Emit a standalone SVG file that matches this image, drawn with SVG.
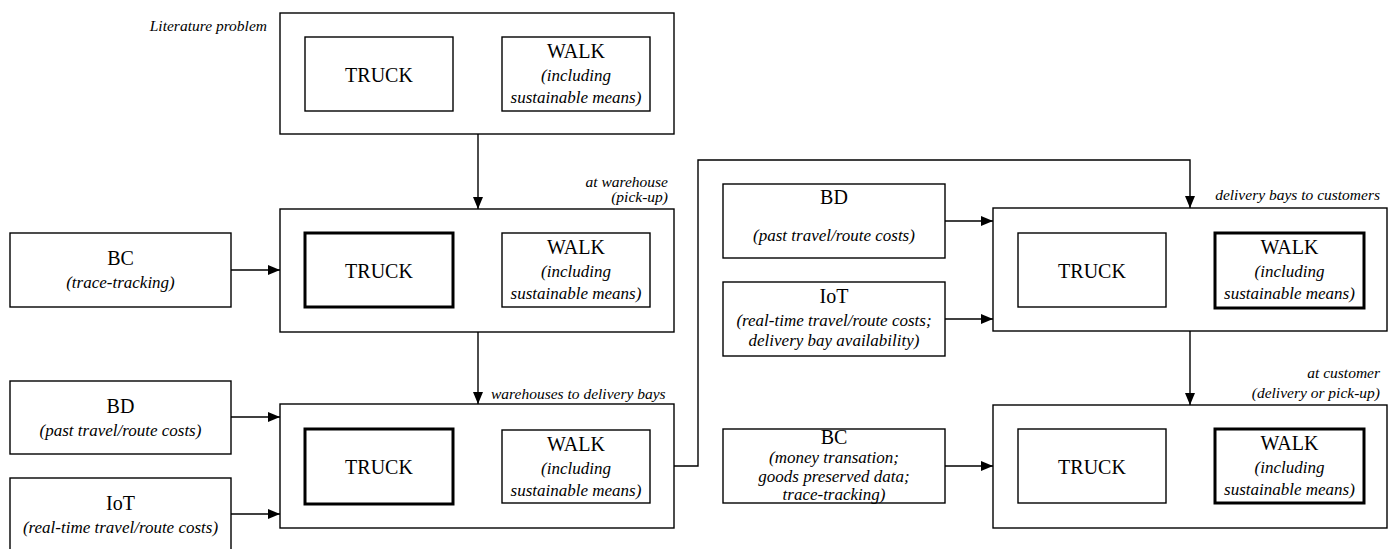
<svg xmlns="http://www.w3.org/2000/svg" width="1392" height="549" viewBox="0 0 1392 549">
<style>
  .box { fill: #fff; stroke: #000; stroke-width: 1.4; }
  .thick { fill: #fff; stroke: #000; stroke-width: 3; }
  text { font-family: 'Liberation Serif', 'Times New Roman', serif; fill: #000; }
  .lbl { font-size: 20px; text-anchor: middle; }
  .sub { font-size: 17px; font-style: italic; text-anchor: middle; }
  .ann { font-size: 15.5px; font-style: italic; text-anchor: end; }
  .ann-s { font-size: 15.5px; font-style: italic; text-anchor: start; }
  .conn { fill: none; stroke: #000; stroke-width: 1.4; }
</style>
<defs>
  <marker id="arr" viewBox="0 0 12 10" refX="12" refY="5" markerWidth="12" markerHeight="10" markerUnits="userSpaceOnUse" orient="auto">
    <path d="M0,0 L12,5 L0,10 Z" fill="#000"/>
  </marker>
</defs>
<rect width="1392" height="549" fill="#fff"/>

<!-- Stage 1: Literature problem -->
<g id="stage-literature">
  <text class="ann" x="267" y="31">Literature problem</text>
  <rect class="box" x="280" y="13" width="394" height="121"/>
  <rect class="box" x="305" y="37" width="148" height="74"/>
  <text class="lbl" x="379" y="82">TRUCK</text>
  <rect class="box" x="502" y="37" width="148" height="74"/>
  <text class="lbl" x="576" y="58">WALK</text>
  <text class="sub" x="576" y="81">(including</text>
  <text class="sub" x="576" y="103">sustainable means)</text>
</g>

<!-- Stage 2: at warehouse -->
<g id="stage-warehouse">
  <text class="ann" x="668" y="187">at warehouse</text>
  <text class="ann" x="668" y="202">(pick-up)</text>
  <rect class="box" x="280" y="209" width="394" height="123"/>
  <rect class="thick" x="305" y="233" width="148" height="74"/>
  <text class="lbl" x="379" y="278">TRUCK</text>
  <rect class="box" x="502" y="233" width="148" height="74"/>
  <text class="lbl" x="576" y="254">WALK</text>
  <text class="sub" x="576" y="277">(including</text>
  <text class="sub" x="576" y="299">sustainable means)</text>
</g>

<g id="bc-left">
  <rect class="box" x="10" y="233" width="221" height="74"/>
  <text class="lbl" x="120.5" y="265">BC</text>
  <text class="sub" x="120.5" y="288">(trace-tracking)</text>
</g>

<!-- Stage 3: warehouses to delivery bays -->
<g id="stage-w2b">
  <text class="ann-s" x="491" y="399">warehouses to delivery bays</text>
  <rect class="box" x="280" y="404" width="394" height="124"/>
  <rect class="thick" x="305" y="429" width="148" height="75"/>
  <text class="lbl" x="379" y="474">TRUCK</text>
  <rect class="box" x="502" y="430" width="148" height="73"/>
  <text class="lbl" x="576" y="451">WALK</text>
  <text class="sub" x="576" y="474">(including</text>
  <text class="sub" x="576" y="496">sustainable means)</text>
</g>

<g id="bd-left">
  <rect class="box" x="10" y="381" width="221" height="73"/>
  <text class="lbl" x="120.5" y="413">BD</text>
  <text class="sub" x="120.5" y="436">(past travel/route costs)</text>
</g>

<g id="iot-left">
  <rect class="box" x="10" y="478" width="221" height="80"/>
  <text class="lbl" x="120.5" y="510">IoT</text>
  <text class="sub" x="120.5" y="533">(real-time travel/route costs)</text>
</g>

<!-- Stage 4: delivery bays to customers -->
<g id="stage-b2c">
  <text class="ann" x="1380" y="200">delivery bays to customers</text>
  <rect class="box" x="993" y="208" width="394" height="123"/>
  <rect class="box" x="1018" y="233" width="148" height="74"/>
  <text class="lbl" x="1092" y="278">TRUCK</text>
  <rect class="thick" x="1215" y="233" width="149" height="75"/>
  <text class="lbl" x="1289.5" y="254">WALK</text>
  <text class="sub" x="1289.5" y="277">(including</text>
  <text class="sub" x="1289.5" y="299">sustainable means)</text>
</g>

<g id="bd-right">
  <rect class="box" x="723" y="184" width="222" height="74"/>
  <text class="lbl" x="834" y="204">BD</text>
  <text class="sub" x="834" y="241">(past travel/route costs)</text>
</g>

<g id="iot-right">
  <rect class="box" x="723" y="282" width="222" height="74"/>
  <text class="lbl" x="834" y="303">IoT</text>
  <text class="sub" x="834" y="326">(real-time travel/route costs;</text>
  <text class="sub" x="834" y="346">delivery bay availability)</text>
</g>

<!-- Stage 5: at customer -->
<g id="stage-customer">
  <text class="ann" x="1380" y="378">at customer</text>
  <text class="ann" x="1380" y="398">(delivery or pick-up)</text>
  <rect class="box" x="993" y="405" width="394" height="123"/>
  <rect class="box" x="1018" y="429" width="148" height="74"/>
  <text class="lbl" x="1092" y="474">TRUCK</text>
  <rect class="thick" x="1215" y="429" width="149" height="74"/>
  <text class="lbl" x="1289.5" y="450">WALK</text>
  <text class="sub" x="1289.5" y="473">(including</text>
  <text class="sub" x="1289.5" y="495">sustainable means)</text>
</g>

<g id="bc-right">
  <rect class="box" x="723" y="429" width="222" height="74"/>
  <text class="lbl" x="834" y="444">BC</text>
  <text class="sub" x="834" y="463">(money transation;</text>
  <text class="sub" x="834" y="482">goods preserved data;</text>
  <text class="sub" x="834" y="500">trace-tracking)</text>
</g>

<!-- Connectors -->
<g id="connectors">
  <path class="conn" d="M478,134 L478,209" marker-end="url(#arr)"/>
  <path class="conn" d="M231,270 L280,270" marker-end="url(#arr)"/>
  <path class="conn" d="M478,332 L478,404" marker-end="url(#arr)"/>
  <path class="conn" d="M231,417 L280,417" marker-end="url(#arr)"/>
  <path class="conn" d="M231,514 L280,514" marker-end="url(#arr)"/>
  <path class="conn" d="M674,466 L698,466 L698,160 L1190,160 L1190,208" marker-end="url(#arr)"/>
  <path class="conn" d="M945,221 L993,221" marker-end="url(#arr)"/>
  <path class="conn" d="M945,319 L993,319" marker-end="url(#arr)"/>
  <path class="conn" d="M1190,331 L1190,405" marker-end="url(#arr)"/>
  <path class="conn" d="M945,466 L993,466" marker-end="url(#arr)"/>
</g>
</svg>
